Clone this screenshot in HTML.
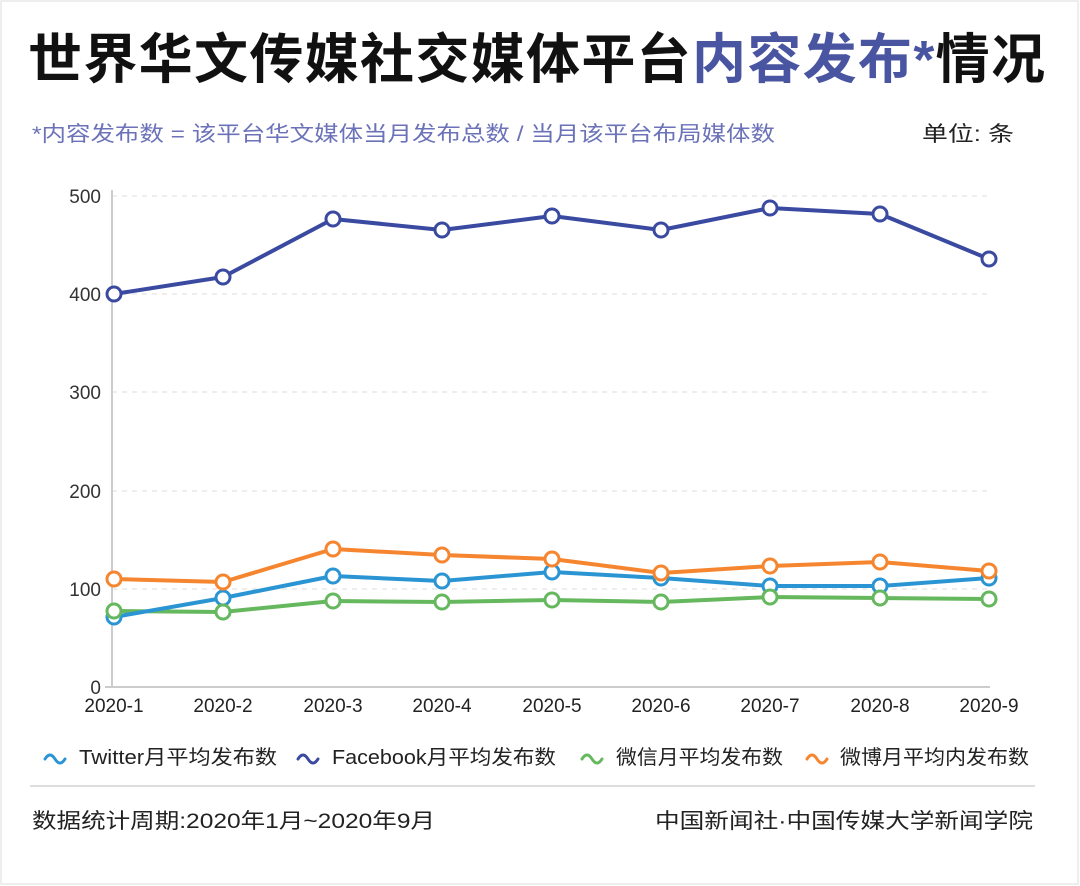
<html><head><style>body{margin:0;background:#fff;width:1080px;height:886px;overflow:hidden;font-family:"Liberation Sans","Noto Sans CJK SC",sans-serif}</style></head><body>
<svg width="1080" height="886" xmlns="http://www.w3.org/2000/svg" font-family="Liberation Sans, Noto Sans CJK SC, sans-serif">
<rect x="1" y="1" width="1077" height="883" fill="#fff" stroke="#ddd"/>
<text x="28" y="78" font-size="54" font-weight="bold" fill="#111" textLength="1017" lengthAdjust="spacing">世界华文传媒社交媒体平台<tspan fill="#4a55a2">内容发布*</tspan>情况</text>
<text x="32" y="141" font-size="21" fill="#6b72b8" textLength="743" lengthAdjust="spacingAndGlyphs">*内容发布数 = 该平台华文媒体当月发布总数 / 当月该平台布局媒体数</text>
<text x="922" y="141" font-size="21" fill="#222" textLength="92" lengthAdjust="spacingAndGlyphs">单位: 条</text>
<g stroke="#ddd" stroke-dasharray="5,5" stroke-width="1">
<line x1="112" x2="990" y1="196" y2="196"/><line x1="112" x2="990" y1="294" y2="294"/><line x1="112" x2="990" y1="392" y2="392"/><line x1="112" x2="990" y1="491" y2="491"/><line x1="112" x2="990" y1="589" y2="589"/></g>
<line x1="112" y1="190" x2="112" y2="687" stroke="#ccc" stroke-width="2"/>
<line x1="105" y1="687" x2="990" y2="687" stroke="#ccc" stroke-width="2"/>
<g font-size="19" fill="#333" text-anchor="end"><text x="101" y="203">500</text><text x="101" y="301">400</text><text x="101" y="399">300</text><text x="101" y="498">200</text><text x="101" y="596">100</text><text x="101" y="694">0</text></g>
<g font-size="19" fill="#222" text-anchor="middle"><text x="114" y="712">2020-1</text><text x="223" y="712">2020-2</text><text x="333" y="712">2020-3</text><text x="442" y="712">2020-4</text><text x="552" y="712">2020-5</text><text x="661" y="712">2020-6</text><text x="770" y="712">2020-7</text><text x="880" y="712">2020-8</text><text x="989" y="712">2020-9</text></g>
<g fill="none" stroke-width="4" stroke-linejoin="round">
<polyline stroke="#3a4aa0" points="114,294 223,277 333,219 442,230 552,216 661,230 770,208 880,214 989,259"/>
<polyline stroke="#66b85f" points="114,611 223,612 333,601 442,602 552,600 661,602 770,597 880,598 989,599"/>
<polyline stroke="#2b95d4" points="114,617 223,598 333,576 442,581 552,572 661,578 770,586 880,586 989,578"/>
<polyline stroke="#f5862f" points="114,579 223,582 333,549 442,555 552,559 661,573 770,566 880,562 989,571"/>
</g>
<g fill="#fff" stroke-width="3">
<g stroke="#3a4aa0"><circle cx="114" cy="294" r="7"/><circle cx="223" cy="277" r="7"/><circle cx="333" cy="219" r="7"/><circle cx="442" cy="230" r="7"/><circle cx="552" cy="216" r="7"/><circle cx="661" cy="230" r="7"/><circle cx="770" cy="208" r="7"/><circle cx="880" cy="214" r="7"/><circle cx="989" cy="259" r="7"/></g>
<g stroke="#2b95d4"><circle cx="114" cy="617" r="7"/><circle cx="223" cy="598" r="7"/><circle cx="333" cy="576" r="7"/><circle cx="442" cy="581" r="7"/><circle cx="552" cy="572" r="7"/><circle cx="661" cy="578" r="7"/><circle cx="770" cy="586" r="7"/><circle cx="880" cy="586" r="7"/><circle cx="989" cy="578" r="7"/></g>
<g stroke="#66b85f"><circle cx="114" cy="611" r="7"/><circle cx="223" cy="612" r="7"/><circle cx="333" cy="601" r="7"/><circle cx="442" cy="602" r="7"/><circle cx="552" cy="600" r="7"/><circle cx="661" cy="602" r="7"/><circle cx="770" cy="597" r="7"/><circle cx="880" cy="598" r="7"/><circle cx="989" cy="599" r="7"/></g>
<g stroke="#f5862f"><circle cx="114" cy="579" r="7"/><circle cx="223" cy="582" r="7"/><circle cx="333" cy="549" r="7"/><circle cx="442" cy="555" r="7"/><circle cx="552" cy="559" r="7"/><circle cx="661" cy="573" r="7"/><circle cx="770" cy="566" r="7"/><circle cx="880" cy="562" r="7"/><circle cx="989" cy="571" r="7"/></g>
</g>
<g fill="none" stroke-width="3" stroke-linecap="round">
<path d="M45,759 q5,-8 10,0 t10,0" stroke="#2b95d4"/>
<path d="M298,759 q5,-8 10,0 t10,0" stroke="#3a4aa0"/>
<path d="M582,759 q5,-8 10,0 t10,0" stroke="#66b85f"/>
<path d="M807,759 q5,-8 10,0 t10,0" stroke="#f5862f"/>
</g>
<g font-size="20" fill="#222"><text x="79" y="764" textLength="198" lengthAdjust="spacingAndGlyphs">Twitter月平均发布数</text><text x="332" y="764" textLength="224" lengthAdjust="spacingAndGlyphs">Facebook月平均发布数</text><text x="616" y="764" textLength="167" lengthAdjust="spacingAndGlyphs">微信月平均发布数</text><text x="840" y="764" textLength="189" lengthAdjust="spacingAndGlyphs">微博月平均内发布数</text></g>
<line x1="30" y1="786" x2="1035" y2="786" stroke="#ddd" stroke-width="2"/>
<text x="32" y="828" font-size="21" fill="#222" textLength="403" lengthAdjust="spacingAndGlyphs">数据统计周期:2020年1月~2020年9月</text>
<text x="655" y="828" font-size="21" fill="#222" textLength="378" lengthAdjust="spacingAndGlyphs">中国新闻社·中国传媒大学新闻学院</text>
</svg></body></html>
